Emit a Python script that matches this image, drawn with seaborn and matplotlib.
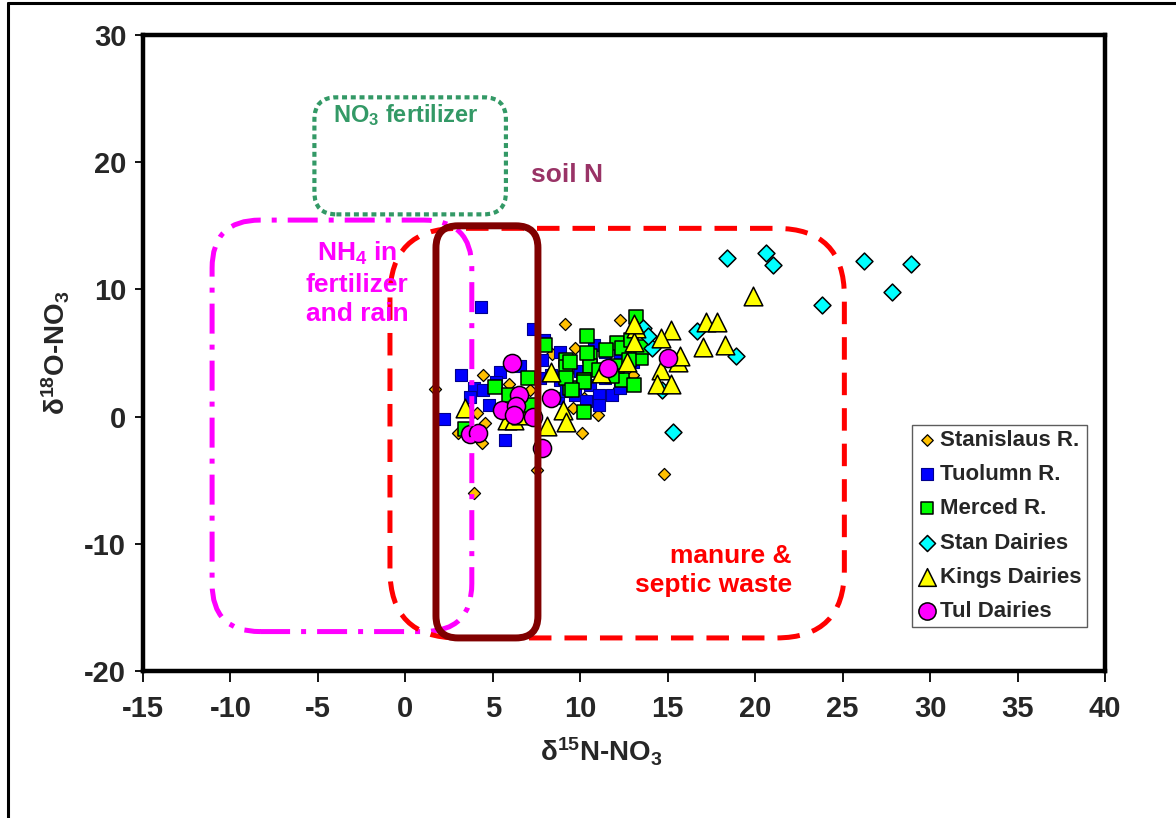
import matplotlib
matplotlib.use("Agg")
import matplotlib.pyplot as plt
from matplotlib.patches import FancyBboxPatch
from matplotlib.lines import Line2D
import seaborn as sns
import pandas as pd

# --- isotope data (delta15N, delta18O of nitrate) ---
stanislaus_x = [1.7, 3.9, 7.5, 14.8, 9.1, 12.3, 9.7, 4.45, 4.1, 4.55, 3.0, 7.1, 10.2, 11.0,
                10.1, 12.2, 4.4, 5.9, 8.4, 11.5, 13.0, 6.5, 9.6]
stanislaus_y = [2.2, -6.0, -4.2, -4.5, 7.3, 7.6, 5.4, 3.3, 0.3, -0.5, -1.3, 2.1, 1.5, 0.1,
                -1.3, 2.25, -2.1, 2.6, 4.9, 3.9, 3.3, -0.2, 0.7]

tuolumn_x = [4.3, 7.3, 3.2, 2.2, 5.7, 5.4, 6.55, 3.9, 4.45, 4.8, 3.7, 7.7, 7.9, 7.8, 8.85,
             9.7, 10.55, 11.1, 11.4, 8.85, 9.4, 10.8, 11.4, 11.8, 12.3, 10.3, 11.1, 8.3,
             8.7, 12.3, 13.0, 10.0, 9.2, 5.2, 6.2]
tuolumn_y = [8.6, 6.9, 3.3, -0.2, -1.8, 3.5, 4.0, 2.25, 2.1, 0.9, 1.55, 3.0, 6.0, 4.45, 5.1,
             1.7, 2.5, 1.7, 3.0, 2.9, 4.4, 5.6, 5.1, 1.7, 2.25, 1.2, 0.9, 3.3,
             1.5, 4.8, 4.3, 3.6, 2.0, 2.7, 1.5]

merced_x = [13.2, 10.4, 12.1, 12.4, 11.5, 10.55, 13.3, 9.2, 10.55, 9.2, 8.0, 12.4, 13.1,
            10.2, 9.4, 10.2, 13.5, 12.1, 11.1, 12.8, 5.1, 7.0, 5.9, 3.4, 7.2, 10.4, 9.4,
            9.2, 10.2, 9.5, 11.8, 13.6, 12.9]
merced_y = [7.8, 6.3, 5.8, 5.4, 5.2, 4.8, 4.7, 4.45, 4.0, 3.9, 5.6, 2.9, 2.5,
            2.9, 2.25, 0.4, 4.6, 4.0, 3.7, 4.45, 2.3, 3.0, 1.7, -1.0, 0.9, 5.0, 4.3,
            3.0, 2.7, 2.1, 3.2, 5.5, 6.0]

stan_dairies_x = [18.4, 20.6, 21.0, 26.2, 28.9, 27.8, 23.8, 18.9, 15.3, 16.7, 13.6, 14.1,
                  14.7, 13.9]
stan_dairies_y = [12.5, 12.9, 11.9, 12.2, 12.0, 9.8, 8.8, 4.8, -1.2, 6.7, 7.0, 5.4,
                  2.1, 6.3]

kings_x = [19.9, 17.2, 17.8, 17.0, 18.3, 13.2, 15.2, 14.6, 13.1, 12.7, 14.6, 15.6, 15.7,
           14.4, 15.2, 8.3, 9.0, 9.2, 8.1, 3.4, 5.8, 6.2, 6.6, 11.2, 13.1]
kings_y = [9.5, 7.4, 7.4, 5.5, 5.6, 7.0, 6.8, 6.2, 5.9, 4.3, 3.7, 4.3, 4.8,
           2.6, 2.6, 3.5, 0.5, -0.4, -0.7, 0.7, -0.3, -0.3, 0.1, 3.4, 7.3]

tul_x = [15.0, 11.6, 6.1, 8.3, 6.5, 5.5, 6.3, 7.3, 6.2, 3.7, 4.15, 7.8]
tul_y = [4.6, 3.8, 4.2, 1.5, 1.7, 0.5, 0.8, 0.0, 0.1, -1.4, -1.3, -2.5]

series_names = ["Stanislaus R.", "Tuolumn R.", "Merced R.", "Stan Dairies",
                "Kings Dairies", "Tul Dairies"]

x_ticks = list(range(-15, 41, 5))
y_ticks = list(range(-20, 31, 10))

# --- styling ---
sns.set_theme(style="white")
plt.rcParams["font.family"] = ["Liberation Sans", "DejaVu Sans"]
plt.rcParams["font.weight"] = "bold"
plt.rcParams["mathtext.fontset"] = "custom"
plt.rcParams["mathtext.rm"] = "Liberation Sans:bold"
plt.rcParams["mathtext.it"] = "Liberation Sans:bold"
plt.rcParams["mathtext.bf"] = "Liberation Sans:bold"
plt.rcParams["mathtext.sf"] = "Liberation Sans:bold"

frames = []
for name, xs, ys in zip(series_names,
                        [stanislaus_x, tuolumn_x, merced_x, stan_dairies_x, kings_x, tul_x],
                        [stanislaus_y, tuolumn_y, merced_y, stan_dairies_y, kings_y, tul_y]):
    frames.append(pd.DataFrame({"d15N": xs, "d18O": ys, "source": name}))
data = pd.concat(frames, ignore_index=True)

marker_style = {
    "Stanislaus R.": dict(marker="D", s=38, color="#FFC000", edgecolor="#000000", linewidth=0.9),
    "Tuolumn R.": dict(marker="s", s=82, color="#0000FF", edgecolor="#00008C", linewidth=0.8),
    "Merced R.": dict(marker="s", s=90, color="#00FF00", edgecolor="#000000", linewidth=1.1),
    "Stan Dairies": dict(marker="D", s=74, color="#00FFFF", edgecolor="#000000", linewidth=1.1),
    "Kings Dairies": dict(marker="^", s=180, color="#FFFF00", edgecolor="#000000", linewidth=1.1),
    "Tul Dairies": dict(marker="o", s=170, color="#FF00FF", edgecolor="#000000", linewidth=1.1),
}

fig = plt.figure(figsize=(11.76, 8.18), dpi=100)
ax = fig.add_axes([0.1216, 0.1797, 0.818, 0.7775])

for name in series_names:
    sub = data[data["source"] == name]
    sns.scatterplot(data=sub, x="d15N", y="d18O", ax=ax, label=name, zorder=3,
                    **marker_style[name])

ax.set_xlim(-15, 40)
ax.set_ylim(-20, 30)
ax.set_xticks(x_ticks)
ax.set_yticks(y_ticks)
ax.set_xticklabels([str(t) for t in x_ticks], fontsize=21, fontweight="bold")
ax.set_yticklabels([str(t) for t in y_ticks], fontsize=21, fontweight="bold")
ax.tick_params(axis="x", direction="out", length=8, width=1.3, color="black", pad=9,
               bottom=True)
ax.tick_params(axis="y", direction="out", length=6, width=1.3, color="black", pad=6,
               left=True)
for sp in ax.spines.values():
    sp.set_color("black")
    sp.set_linewidth(3.2)
ax.grid(False)

ax.set_xlabel(r"δ$^{15}$N-NO$_3$", fontsize=20, fontweight="bold")
ax.set_ylabel(r"δ$^{18}$O-NO$_3$", fontsize=20, fontweight="bold")
ax.xaxis.set_label_coords((601 - 143) / 962, -(752 - 671) / 636)
ax.yaxis.set_label_coords(-(143 - 56) / 962, (671 - 353) / 636)
ax.xaxis.label.set_va("center")
ax.yaxis.label.set_va("center")

# pixel-equal corner rounding for the source-field outlines
pos = ax.get_position()
px_per_x = pos.width * 1176 / 55.0
px_per_y = pos.height * 818 / 50.0
aspect = px_per_x / px_per_y


def field(x0, y0, x1, y1, radius_px, color, lw, ls):
    r = radius_px / px_per_x
    patch = FancyBboxPatch((x0, y0), x1 - x0, y1 - y0,
                           boxstyle=f"round,pad=0,rounding_size={r}",
                           mutation_aspect=aspect, transform=ax.transData,
                           fill=False, edgecolor=color, linewidth=lw,
                           linestyle=ls, zorder=5, capstyle="butt", joinstyle="round")
    ax.add_patch(patch)


field(-5.2, 15.9, 5.75, 25.1, 22, "#339966", 3.0, (0, (1.2, 0.9)))
field(-11.05, -16.9, 3.8, 15.45, 48, "#FF00FF", 3.6, (0, (6, 2.2, 1, 2.2)))
field(-0.88, -17.4, 25.1, 14.8, 68, "#FF0000", 3.6, (0, (4.5, 2.6)))
field(1.75, -17.4, 7.58, 15.0, 22, "#800000", 5.0, "-")

ax.text(0.0, 23.7, r"NO$_3$ fertilizer", color="#339966", fontsize=17,
        fontweight="bold", ha="center", va="center", zorder=6)
ax.text(9.24, 19.0, "soil N", color="#993366", fontsize=19,
        fontweight="bold", ha="center", va="center", zorder=6)
ax.text(-2.76, 10.5, "NH$_4$ in\nfertilizer\nand rain", color="#FF00FF", fontsize=19,
        fontweight="bold", ha="center", va="center", linespacing=1.3, zorder=6)
ax.text(22.1, -12.1, "manure &\nseptic waste", color="#FF0000", fontsize=19,
        fontweight="bold", ha="right", va="center", multialignment="right",
        linespacing=1.3, zorder=6)

leg = ax.legend(loc="lower right", bbox_to_anchor=(0.981, 0.069), borderaxespad=0,
                frameon=True, fancybox=False, prop={"size": 16, "weight": "bold"},
                handletextpad=0.15, labelspacing=0.6, borderpad=0.22,
                handlelength=0.9, markerscale=0.95)
leg.get_frame().set_edgecolor("#333333")
leg.get_frame().set_linewidth(1.0)
leg.set_zorder(10)

# outer chart-area frame
fig.add_artist(Line2D([8 / 1176, 1.0], [1 - 3 / 818, 1 - 3 / 818],
                      transform=fig.transFigure, color="black", lw=2.2))
fig.add_artist(Line2D([8 / 1176, 8 / 1176], [0.0, 1 - 3 / 818],
                      transform=fig.transFigure, color="black", lw=2.2))

fig.savefig("out.png", dpi=100)
